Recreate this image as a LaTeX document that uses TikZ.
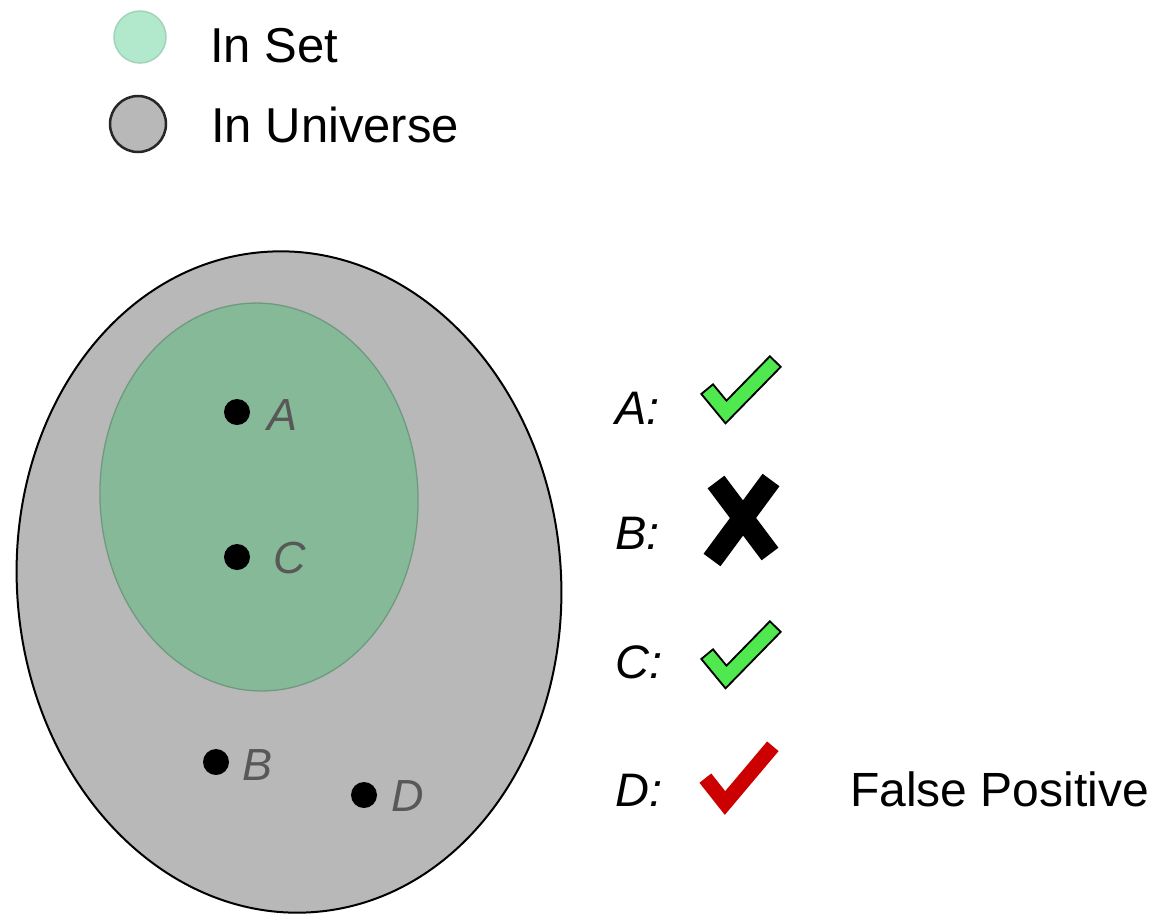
\documentclass[tikz,border=0pt]{standalone}
\usepackage{fontspec}
\setmainfont{Liberation Sans}
\definecolor{outerfill}{HTML}{B8B8B8}
\definecolor{innerfill}{HTML}{86B998}
\definecolor{innerline}{HTML}{6F9A80}
\definecolor{legendgreen}{HTML}{B2E8CC}
\definecolor{legendgreenline}{HTML}{A3D3B8}
\definecolor{checkgreen}{HTML}{4FE84F}
\definecolor{checkred}{HTML}{CC0000}
\definecolor{labelgray}{HTML}{585858}
\begin{document}
\begin{tikzpicture}[x=1pt,y=-1pt,
  legendtext/.style={anchor=base west,inner sep=0pt,font=\fontsize{49}{58}\selectfont},
  rowlabel/.style={anchor=base west,inner sep=0pt,font=\fontsize{47}{56}\selectfont\itshape},
  ptlabel/.style={anchor=base west,inner sep=0pt,text=labelgray,font=\fontsize{45}{54}\selectfont\itshape},
  ptdot/.style={fill=black},
  checkout/.style={draw=black,line width=17pt,line cap=rect,line join=miter},
  checkin/.style={draw=checkgreen,line width=13pt,line cap=rect,line join=miter},
  redcheck/.style={draw=checkred,line width=15pt,line cap=rect,line join=miter},
  crossstroke/.style={draw=black,line width=21pt,line cap=butt},
  gcheck/.pic={
    \draw[checkout] (12,40) -- (26,57) -- (70,12);
    \draw[checkin] (12,40) -- (26,57) -- (70,12);
  }]
\useasboundingbox (0,0) rectangle (1158,914);
\fill[white] (0,0) rectangle (1158,914);

% legend
\draw[fill=legendgreen,draw=legendgreenline,line width=1.5pt] (140,37) circle [radius=26];
\draw[fill=outerfill,draw=black!85,line width=2.5pt] (138,124) circle [radius=28];
\node[legendtext] (lset) at (210,62) {In Set};
\node[legendtext] (luni) at (211,142) {In Universe};

% universe and set
\draw[fill=outerfill,draw=black,line width=2pt,rotate around={4.5:(289,582)}]
  (289,582) ellipse [x radius=272, y radius=331];
\draw[fill=innerfill,draw=innerline,line width=1.3pt,rotate around={2.5:(259,497)}]
  (259,497) ellipse [x radius=159, y radius=194];

% points
\fill[ptdot] (237,412) circle [radius=13];
\fill[ptdot] (237,557) circle [radius=13];
\fill[ptdot] (216,762) circle [radius=13];
\fill[ptdot] (364,795) circle [radius=13];
\node[ptlabel] (pa) at (267,430) {A};
\node[ptlabel] (pc) at (273,573) {C};
\node[ptlabel] (pb) at (242,780) {B};
\node[ptlabel] (pd) at (391,811) {D};

% result rows
\node[rowlabel] (ra) at (615,424) {A:};
\node[rowlabel] (rb) at (615,549) {B:};
\node[rowlabel] (rc) at (615,678) {C:};
\node[rowlabel] (rd) at (615,806) {D:};

\pic at (700,355) {gcheck};
\pic at (700,620) {gcheck};

\draw[crossstroke] (716,482) -- (770,554);
\draw[crossstroke] (771,480) -- (712,560);

\draw[redcheck] (710,784) -- (725,803) -- (768,752);

\node[anchor=base west,inner sep=0pt,font=\fontsize{48}{57}\selectfont] (fp) at (850,806) {False Positive};
\end{tikzpicture}
\end{document}
